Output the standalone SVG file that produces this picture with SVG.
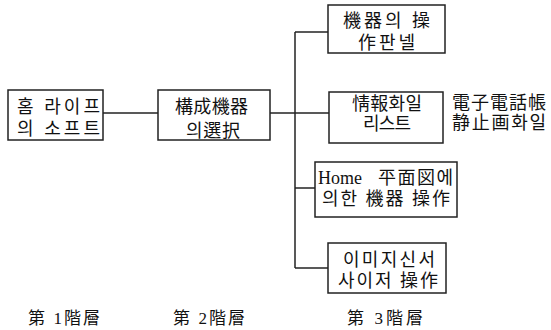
<svg xmlns="http://www.w3.org/2000/svg" width="551" height="330" viewBox="0 0 551 330">
<style>
.box{fill:#fff;stroke:#222;stroke-width:1.5}
.ln{fill:none;stroke:#222;stroke-width:1.5}
text{font-family:"Liberation Serif","Noto Sans CJK KR",serif;font-size:18px;fill:#111}
.lbl{font-size:17px}
</style>
<rect width="551" height="330" fill="#fff"/>
<g id="connectors">
<line class="ln" x1="103" y1="113" x2="158" y2="113"/>
<line class="ln" x1="270" y1="113" x2="295" y2="113"/>
<line class="ln" x1="295" y1="32" x2="295" y2="268"/>
<line class="ln" x1="295" y1="32" x2="328" y2="32"/>
<line class="ln" x1="295" y1="113" x2="329" y2="113"/>
<line class="ln" x1="295" y1="188" x2="315" y2="188"/>
<line class="ln" x1="295" y1="268" x2="328" y2="268"/>
</g>
<g id="n1">
<rect class="box" x="8" y="90" width="95" height="50"/>
<text x="17" y="113" textLength="83" lengthAdjust="spacing">홈 라이프</text>
<text x="17" y="135" textLength="83" lengthAdjust="spacing">의 소프트</text>
</g>
<g id="n2">
<rect class="box" x="158" y="90" width="112" height="50"/>
<text x="175" y="113" textLength="73" lengthAdjust="spacing">構成機器</text>
<text x="186" y="137" textLength="54" lengthAdjust="spacing">의選択</text>
</g>
<g id="n3">
<rect class="box" x="328" y="5" width="117" height="48"/>
<text x="343" y="27" textLength="87" lengthAdjust="spacing">機器의 操</text>
<text x="358" y="49" textLength="57" lengthAdjust="spacing">作판넬</text>
</g>
<g id="n4">
<rect class="box" x="329" y="92" width="114" height="51"/>
<text x="352" y="110" textLength="70" lengthAdjust="spacing">情報화일</text>
<text x="363" y="130" textLength="48" lengthAdjust="spacing">리스트</text>
</g>
<g id="note">
<text x="452" y="109" textLength="94" lengthAdjust="spacing">電子電話帳</text>
<text x="452" y="129" textLength="94" lengthAdjust="spacing">静止画화일</text>
</g>
<g id="n5">
<rect class="box" x="315" y="162" width="142" height="55"/>
<text x="318" y="184"><tspan>Home</tspan><tspan x="378" textLength="75" lengthAdjust="spacing">平面図에</tspan></text>
<text x="322" y="205" textLength="128" lengthAdjust="spacing">의한 機器 操作</text>
</g>
<g id="n6">
<rect class="box" x="328" y="243" width="118" height="50"/>
<text x="343" y="266" textLength="92" lengthAdjust="spacing">이미지신서</text>
<text x="338" y="287" textLength="100" lengthAdjust="spacing">사이저 操作</text>
</g>
<g id="layers">
<text class="lbl" x="28" y="324" textLength="72" lengthAdjust="spacing">第 1階層</text>
<text class="lbl" x="173" y="324" textLength="72" lengthAdjust="spacing">第 2階層</text>
<text class="lbl" x="347" y="324" textLength="76" lengthAdjust="spacing">第 3階層</text>
</g>
</svg>
